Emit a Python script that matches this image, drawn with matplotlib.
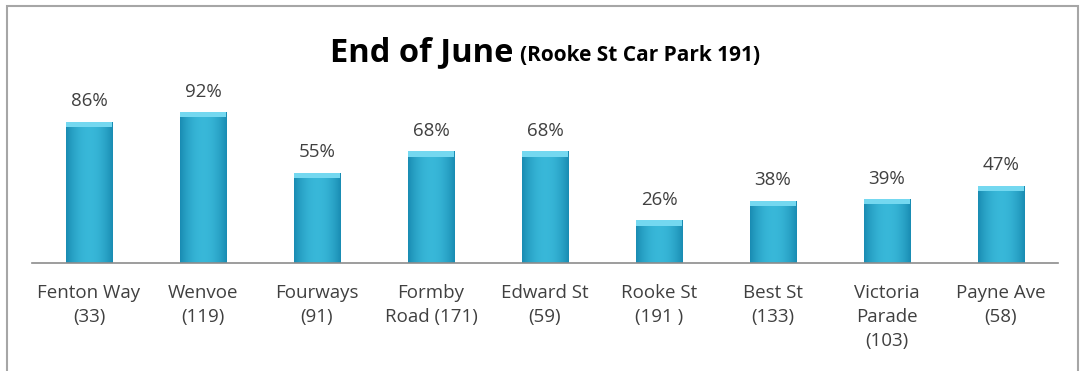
import numpy as np
import matplotlib.pyplot as plt
from matplotlib.patches import Rectangle

plt.rcParams['font.family'] = ['Open Sans', 'DejaVu Sans']

# ---- data ----
sites = ["Fenton Way\n(33)", "Wenvoe\n(119)", "Fourways\n(91)", "Formby\nRoad (171)",
         "Edward St\n(59)", "Rooke St\n(191 )", "Best St\n(133)", "Victoria\nParade\n(103)",
         "Payne Ave\n(58)"]
occupancy = [86, 92, 55, 68, 68, 26, 38, 39, 47]
title_main = "End of June"
title_sub = "(Rooke St Car Park 191)"

fig = plt.figure(figsize=(10.8, 3.71), dpi=100)
ax = fig.add_axes([32/1080, 108/371, 1026/1080, 164/371])

x = np.arange(len(sites))
bars = ax.bar(x, occupancy, width=0.41, color="#2ba3c8", zorder=2)

# horizontal shading inside each bar (darker edges, lighter middle)
grad = np.linspace(-1, 1, 64)
shade = 1 - np.abs(grad) ** 2
cols = np.array([0.10, 0.55, 0.70])[None, :] + shade[:, None] * np.array([0.12, 0.17, 0.15])[None, :]
img = cols[None, :, :]
for b in bars:
    im = ax.imshow(img, extent=[b.get_x(), b.get_x() + b.get_width(), 0, b.get_height()],
                   aspect="auto", zorder=2.5)
    im.set_clip_path(b)

# light bevel on top of each bar
ax.bar(x, [3.2] * len(x), bottom=[v - 3.2 for v in occupancy], width=0.41,
       color="#74d8f0", zorder=3)

for xi, v in zip(x, occupancy):
    ax.text(xi, v + 7, f"{v}%", ha="center", va="bottom", fontsize=13.5, color="#404040")

ax.set_xlim(-0.5, len(sites) - 0.5)
ax.set_ylim(0, 100)
ax.set_xticks(x)
ax.set_xticklabels(sites, fontsize=13.5, color="#404040", linespacing=1.42)
ax.tick_params(axis="x", length=0, pad=15)
ax.set_yticks([])
for s in ["top", "right", "left"]:
    ax.spines[s].set_visible(False)
ax.spines["bottom"].set_color("#8c8c8c")
ax.spines["bottom"].set_linewidth(1.2)

# title in two sizes
fig.text(513/1080, 1 - 61/371, title_main, ha="right", va="baseline",
         fontsize=23.5, fontweight="bold", color="black")
fig.text(520/1080, 1 - 61/371, title_sub, ha="left", va="baseline",
         fontsize=15, fontweight="bold", color="black")

# chart frame
fig.patches.append(Rectangle((7/1080, -0.1), 1071/1080, 1.1 - 6/371, transform=fig.transFigure,
                             fill=False, edgecolor="#a6a6a6", linewidth=1.5))

fig.savefig("out.png", dpi=100)
